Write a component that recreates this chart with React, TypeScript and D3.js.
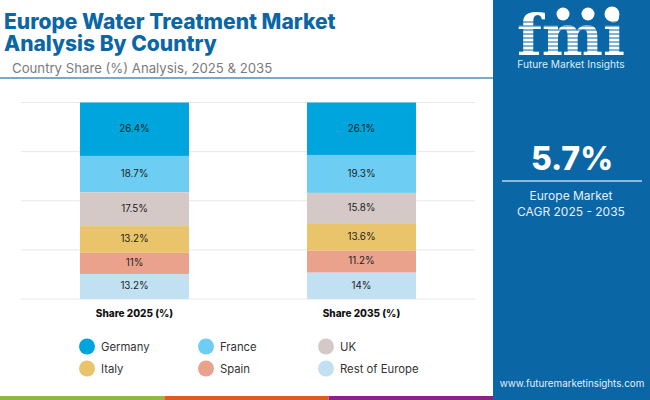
import React from "react";
import * as d3 from "d3";

const countries = ["Germany", "France", "UK", "Italy", "Spain", "Rest of Europe"];
// Printed labels
const labels2025 = ["26.4%", "18.7%", "17.5%", "13.2%", "11%", "13.2%"];
const labels2035 = ["26.1%", "19.3%", "15.8%", "13.6%", "11.2%", "14%"];
// Segment heights as drawn in the picture (share of the column, top to bottom)
const drawn2025 = [27.2, 18.5, 17.2, 13.6, 10.8, 12.7];
const drawn2035 = [26.7, 19.3, 15.8, 13.6, 11.2, 13.4];
const columns = ["Share 2025 (%)", "Share 2035 (%)"];
const colors = ["#00a5de", "#6dcdf3", "#d4c9c6", "#e9c46a", "#eba28c", "#c1e0f2"];
const gridTicks = [0, 25, 50, 75, 100];
const stripes = ["#8cbb44", "#e05a26", "#8a2387"];

const FONT = "Inter, 'Open Sans', sans-serif";
const BLUE = "#0b66a6";

export default function App() {
  const x = d3.scaleBand<string>().domain(columns).range([21, 475]).paddingInner(0.52).paddingOuter(0.26);
  const y = d3.scaleLinear().domain([0, 100]).range([299, 102.5]);
  const toStack = (vals: number[]) =>
    d3.stack<any>().keys(countries).value((_, k) => vals[countries.indexOf(k)])([{}]);
  const cols = [toStack(drawn2025), toStack(drawn2035)];
  const colLabels = [labels2025, labels2035];
  const stripeX = d3.scaleLinear().domain([0, 3]).range([0, 493]);
  const legendX = [79, 198, 318];
  const legendY = [347, 369];

  return (
    <svg width={650} height={400} style={{ position: "absolute", left: 0, top: 0, background: "#fff" }} fontFamily={FONT}>
      <rect width={650} height={400} fill="#fff" />
      <text fill={BLUE} fontSize={21} fontWeight={800}>
        <tspan x={4} y={29}>Europe Water Treatment Market</tspan>
        <tspan x={4} y={51}>Analysis By Country</tspan>
      </text>
      <text x={12} y={73} fontSize={13.2} fill="#7b7b7b">Country Share (%) Analysis, 2025 &amp; 2035</text>
      <rect x={0} y={77} width={493} height={2} fill="#7da8c8" />

      {gridTicks.map((t) => (
        <line key={t} x1={21} x2={475} y1={y(t)} y2={y(t)} stroke="#e8e8e8" strokeWidth={1} />
      ))}

      {columns.map((col, ci) => (
        <g key={col}>
          {cols[ci].map((s, i) => {
            const top = y(100 - s[0][0]);
            const bottom = y(100 - s[0][1]);
            return (
              <g key={s.key}>
                <rect x={x(col)} y={top} width={x.bandwidth()} height={bottom - top} fill={colors[i]} />
                <text x={x(col)! + x.bandwidth() / 2} y={(top + bottom) / 2 + 2.8} textAnchor="middle" fontSize={9.8} fill="#222">
                  {colLabels[ci][i]}
                </text>
              </g>
            );
          })}
          <text x={x(col)! + x.bandwidth() / 2} y={317} textAnchor="middle" fontSize={10} fontWeight={800} fill="#111">{col}</text>
        </g>
      ))}

      {countries.map((c, i) => {
        const cx = legendX[i % 3];
        const cy = legendY[Math.floor(i / 3)];
        return (
          <g key={c}>
            <circle cx={cx + 8} cy={cy - 0.5} r={8} fill={colors[i]} />
            <text x={cx + 22} y={cy + 4} fontSize={11.3} fill="#333">{c}</text>
          </g>
        );
      })}

      {stripes.map((s, i) => (
        <rect key={s} x={stripeX(i)} y={396} width={stripeX(1)} height={4} fill={s} />
      ))}

      <rect x={493} y={0} width={157} height={400} fill={BLUE} />

      <g>
        <text x={571} y={55} textAnchor="middle" fontSize={56} fontWeight={700} fontFamily="'DejaVu Serif', serif" fill="#fff" textLength={108} lengthAdjust="spacingAndGlyphs">fmi</text>
        {[22, 26, 30, 34, 38, 42, 46, 50].map((ly) => (
          <line key={ly} x1={515} x2={628} y1={ly} y2={ly} stroke={BLUE} strokeWidth={1} />
        ))}
        <circle cx={563} cy={14} r={6.5} fill="#fff" />
        <circle cx={588} cy={14} r={6.5} fill="#fff" />
        <circle cx={612} cy={14} r={7.5} fill="#fff" />
        <text x={571} y={68} textAnchor="middle" fontSize={10.2} fill="#dcecf7">Future Market Insights</text>
      </g>

      <text x={572} y={170} textAnchor="middle" fontSize={32} fontWeight={800} fill="#fff">5.7%</text>
      <rect x={502} y={180} width={140} height={2} fill="#8db8d8" />
      <text x={571} y={200} textAnchor="middle" fontSize={12} fill="#e4f0f8">Europe Market</text>
      <text x={571} y={216} textAnchor="middle" fontSize={12} fill="#e4f0f8">CAGR 2025 - 2035</text>
      <text x={572} y={387} textAnchor="middle" fontSize={9.8} fill="#e4f0f8">www.futuremarketinsights.com</text>
    </svg>
  );
}
